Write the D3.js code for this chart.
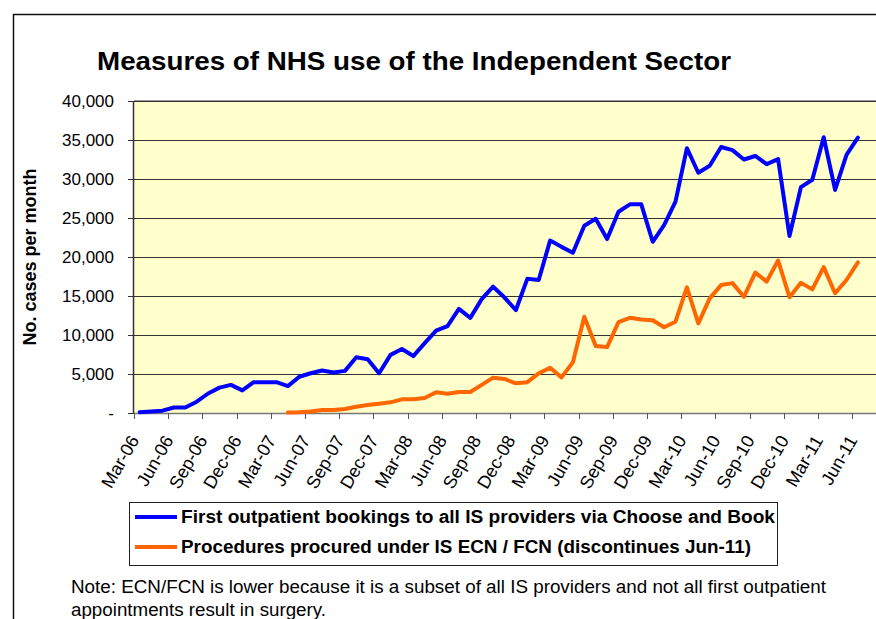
<!DOCTYPE html>
<html>
<head>
<meta charset="utf-8">
<script src="https://cdn.jsdelivr.net/npm/d3@7"></script>
<style>
  body { margin: 0; background: #fff; }
  svg { display: block; font-family: "Liberation Sans", Arial, sans-serif; }
</style>
</head>
<body>
<svg id="canvas"></svg>
<script>
// months Mar-06 .. Aug-11 (axis runs past the last data point)
const categories = d3.timeMonths(new Date(2006, 2, 1), new Date(2011, 8, 1)).map(d3.timeFormat('%b-%y'));

const tickLabels = ['Mar-06', 'Jun-06', 'Sep-06', 'Dec-06', 'Mar-07', 'Jun-07', 'Sep-07', 'Dec-07',
  'Mar-08', 'Jun-08', 'Sep-08', 'Dec-08', 'Mar-09', 'Jun-09', 'Sep-09', 'Dec-09',
  'Mar-10', 'Jun-10', 'Sep-10', 'Dec-10', 'Mar-11', 'Jun-11'];

const yTicks = [0, 5000, 10000, 15000, 20000, 25000, 30000, 35000, 40000];

// first outpatient bookings via Choose and Book, Mar-06 .. Jun-11
const bookings = [100, 200, 300, 700, 700, 1450, 2500, 3250, 3600, 2900, 3950, 3950,
  3950, 3450, 4650, 5100, 5450, 5200, 5400, 7150, 6900, 5100, 7450, 8200,
  7300, 8950, 10550, 11150, 13350, 12200, 14600, 16200, 14800, 13200, 17200, 17050,
  22100, 21300, 20550, 24000, 24900, 22300, 25800, 26750, 26750, 21950, 24100, 27100,
  33950, 30800, 31700, 34100, 33700, 32500, 32950, 31900, 32550, 22700, 28950, 29900,
  35350, 28600, 33100, 35300];

// ECN / FCN procedures, starting Apr-07
const procedures = [null, null, null, null, null, null, null, null, null, null, null, null,
  null, 50, 100, 200, 380, 380, 520, 800, 1030, 1200, 1370, 1750,
  1750, 1920, 2650, 2480, 2690, 2690, 3600, 4530, 4360, 3800, 3950, 5080,
  5800, 4570, 6500, 12350, 8600, 8450, 11650, 12200, 12000, 11900, 11000, 11700,
  16100, 11500, 14700, 16400, 16650, 14900, 18000, 16850, 19550, 14850, 16700, 15850,
  18700, 15350, 17050, 19300];

const seriesNames = ['First outpatient bookings to all IS providers via Choose and Book',
  'Procedures procured under IS ECN / FCN (discontinues Jun-11)'];
const seriesColors = ['#0000ff', '#ff6600'];

const noteLines = ['Note: ECN/FCN is lower because it is a subset of all IS providers and not all first outpatient',
  'appointments result in surgery.'];

const width = 876;
const height = 619;
const plotLeft = 134;
const plotTop = 101;
const plotBottom = 413;
const step = 11.4;

let canvas = d3.select('#canvas')
  .attr('width', width)
  .attr('height', height);

let xScale = d3.scaleBand()
  .domain(categories)
  .range([plotLeft, plotLeft + step * categories.length]);

let yScale = d3.scaleLinear()
  .domain([0, 40000])
  .range([plotBottom, plotTop]);

let xCenter = (c) => xScale(c) + xScale.bandwidth() / 2;

// outer chart frame (right and bottom edges fall outside the picture)
canvas.append('path')
  .attr('d', `M13.5,${height} V14.5 H${width}`)
  .attr('fill', 'none')
  .attr('stroke', '#111')
  .attr('stroke-width', 1.5);

// title
canvas.append('text')
  .attr('x', 97)
  .attr('y', 70)
  .attr('font-size', 25)
  .attr('font-weight', 'bold')
  .attr('textLength', 634)
  .attr('lengthAdjust', 'spacingAndGlyphs')
  .text('Measures of NHS use of the Independent Sector');

// plot area
canvas.append('rect')
  .attr('x', plotLeft)
  .attr('y', plotTop)
  .attr('width', width - plotLeft)
  .attr('height', plotBottom - plotTop)
  .attr('fill', '#ffffcc');

canvas.append('line')
  .attr('x1', plotLeft).attr('x2', width)
  .attr('y1', plotTop - 0.5).attr('y2', plotTop - 0.5)
  .attr('stroke', '#999');

// gridlines
canvas.append('g')
  .selectAll('line')
  .data(yTicks.filter(v => v > 0))
  .enter()
  .append('line')
  .attr('x1', plotLeft)
  .attr('x2', width)
  .attr('y1', (v) => Math.round(yScale(v)) + 0.5)
  .attr('y2', (v) => Math.round(yScale(v)) + 0.5)
  .attr('stroke', '#333');

// y axis
let yAxis = d3.axisLeft(yScale)
  .tickValues(yTicks)
  .tickSize(6)
  .tickPadding(14)
  .tickFormat((v) => v === 0 ? '-' : d3.format(',')(v));

let yAxisG = canvas.append('g')
  .attr('transform', `translate(${plotLeft}, 0)`)
  .call(yAxis);
yAxisG.select('.domain').remove();
yAxisG.selectAll('line').attr('stroke', '#333');
yAxisG.selectAll('text')
  .attr('font-size', 17)
  .attr('font-family', '"Liberation Sans", Arial, sans-serif')
  .attr('fill', '#000');
canvas.append('line')
  .attr('x1', plotLeft - 0.5).attr('x2', plotLeft - 0.5)
  .attr('y1', plotTop).attr('y2', plotBottom + 1)
  .attr('stroke', '#333')
  .attr('stroke-width', 1.5);

canvas.append('text')
  .attr('transform', 'translate(36, 257) rotate(-90)')
  .attr('text-anchor', 'middle')
  .attr('font-size', 18)
  .attr('font-weight', 'bold')
  .text('No. cases per month');

// x axis: tick marks every three months, between categories
let tickCats = categories.filter((c, i) => i % 3 === 0);
let xAxisG = canvas.append('g');
xAxisG.append('line')
  .attr('x1', plotLeft).attr('x2', width)
  .attr('y1', plotBottom + 0.5).attr('y2', plotBottom + 0.5)
  .attr('stroke', '#777')
  .attr('stroke-width', 1.5);
xAxisG.selectAll('.tick')
  .data(tickCats)
  .enter()
  .append('line')
  .attr('x1', (c) => Math.round(xScale(c)) + 0.5)
  .attr('x2', (c) => Math.round(xScale(c)) + 0.5)
  .attr('y1', plotBottom)
  .attr('y2', plotBottom + 6)
  .attr('stroke', '#555');
xAxisG.selectAll('text')
  .data(tickLabels)
  .enter()
  .append('text')
  .attr('transform', (t) => `translate(${xCenter(t)}, ${plotBottom + 27}) rotate(-60)`)
  .attr('text-anchor', 'end')
  .attr('font-size', 18)
  .text((t) => t);

// lines
let seriesData = [bookings, procedures];
let lineGen = d3.line()
  .defined((d) => d.v !== null)
  .x((d) => xCenter(d.c))
  .y((d) => yScale(d.v));

canvas.append('g')
  .selectAll('path')
  .data(seriesData)
  .enter()
  .append('path')
  .attr('d', (s) => lineGen(s.map((v, i) => ({ c: categories[i], v: v }))))
  .attr('fill', 'none')
  .attr('stroke', (s, i) => seriesColors[i])
  .attr('stroke-width', 4)
  .attr('stroke-linejoin', 'round')
  .attr('stroke-linecap', 'round');

// legend
let legend = canvas.append('g');
legend.append('rect')
  .attr('x', 129.5)
  .attr('y', 502.5)
  .attr('width', 648)
  .attr('height', 63)
  .attr('fill', '#fff')
  .attr('stroke', '#222');

let legendItems = legend.selectAll('.item')
  .data(seriesNames)
  .enter()
  .append('g')
  .attr('transform', (d, i) => `translate(0, ${517 + i * 30})`);
legendItems.append('line')
  .attr('x1', 135).attr('x2', 177)
  .attr('stroke', (d, i) => seriesColors[i])
  .attr('stroke-width', 4);
legendItems.append('text')
  .attr('x', 181)
  .attr('dy', '0.36em')
  .attr('font-size', 18)
  .attr('font-weight', 'bold')
  .attr('textLength', (d, i) => i === 0 ? 594 : 570)
  .attr('lengthAdjust', 'spacingAndGlyphs')
  .text((d) => d);

// note
canvas.append('g')
  .selectAll('text')
  .data(noteLines)
  .enter()
  .append('text')
  .attr('x', 71)
  .attr('y', (d, i) => 593 + i * 23)
  .attr('font-size', 17.5)
  .attr('textLength', (d, i) => i === 0 ? 755 : 255)
  .attr('lengthAdjust', 'spacingAndGlyphs')
  .text((d) => d);
</script>
</body>
</html>
